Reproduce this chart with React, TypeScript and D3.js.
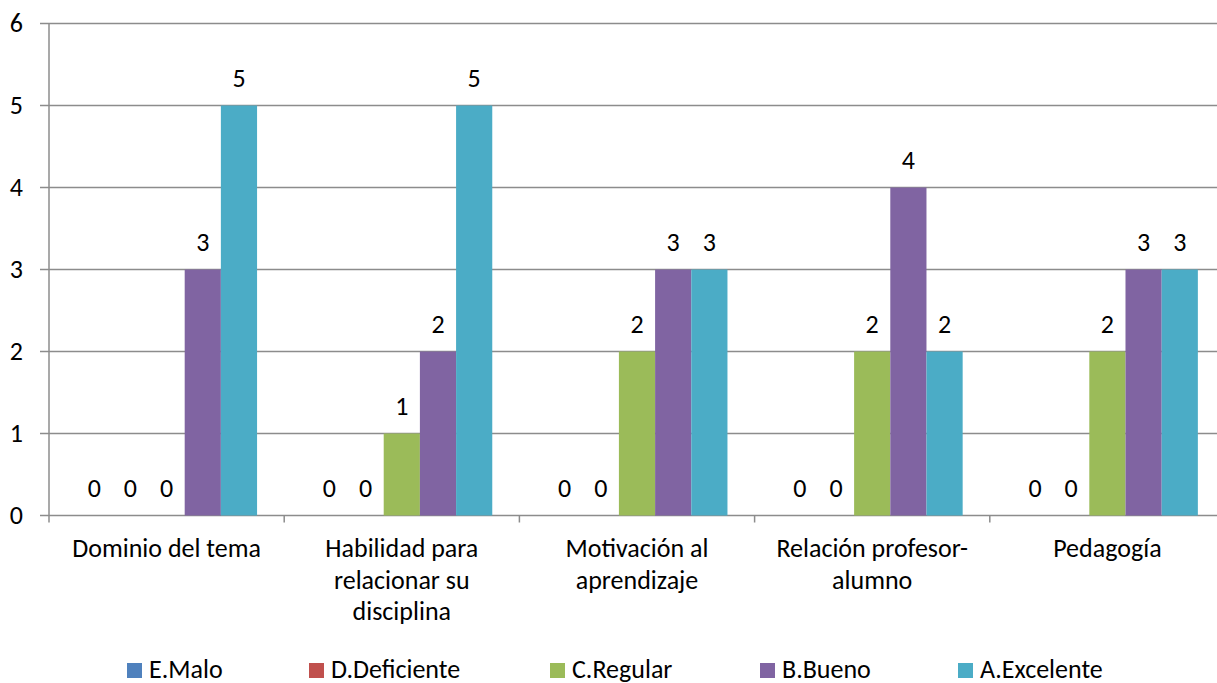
import React from "react";
import * as d3 from "d3";

const categories = ["Dominio del tema", "Habilidad para relacionar su disciplina", "Motivación al aprendizaje", "Relación profesor-alumno", "Pedagogía"];
const categoryLines = [
  ["Dominio del tema"],
  ["Habilidad para", "relacionar su", "disciplina"],
  ["Motivación al", "aprendizaje"],
  ["Relación profesor-", "alumno"],
  ["Pedagogía"],
];
const seriesNames = ["E.Malo", "D.Deficiente", "C.Regular", "B.Bueno", "A.Excelente"];
const seriesColors = ["#4F81BD", "#C0504D", "#9BBB59", "#8064A2", "#4BACC6"];
const malo = [0, 0, 0, 0, 0];
const deficiente = [0, 0, 0, 0, 0];
const regular = [0, 1, 2, 2, 2];
const bueno = [3, 2, 3, 4, 3];
const excelente = [5, 5, 3, 2, 3];
const seriesValues = [malo, deficiente, regular, bueno, excelente];
const yTicks = [0, 1, 2, 3, 4, 5, 6];

const W = 1217;
const H = 683;
const FONT = "Carlito, Lato, 'Open Sans', sans-serif";
const FS = 26;
const GRID = "#8C8C8C";
// legend layout (x of each swatch)
const legendX = [127, 309, 550, 760, 958];

export default function App() {
  const left = 49;
  const catW = 235.2;
  const x0 = d3.scaleBand<string>().domain(categories).range([left, left + catW * categories.length]).padding(0);
  const x1 = d3.scaleBand<string>().domain(seriesNames).range([0, catW]).paddingInner(0).paddingOuter(0.75);
  const y = d3.scaleLinear().domain([0, 6]).range([515.5, 23.5]);

  return (
    <svg width={W} height={H} style={{ position: "absolute", left: 0, top: 0, background: "#fff" }} fontFamily={FONT}>
      {yTicks.map((t) => (
        <g key={t}>
          <line x1={40} x2={W} y1={y(t)} y2={y(t)} stroke={GRID} strokeWidth={1.5} />
          <text x={23} y={y(t) + 8.5} textAnchor="end" fontSize={FS} fill="#000">{t}</text>
        </g>
      ))}
      <line x1={left} x2={left} y1={y(6)} y2={y(0) + 7} stroke={GRID} strokeWidth={1.5} />
      {categories.slice(1).map((c) => (
        <line key={c} x1={x0(c)!} x2={x0(c)!} y1={y(0)} y2={y(0) + 7} stroke={GRID} strokeWidth={1.5} />
      ))}
      {categories.map((c, ci) => (
        <g key={c}>
          {seriesNames.map((s, si) => {
            const v = seriesValues[si][ci];
            const bx = x0(c)! + x1(s)!;
            return (
              <g key={s}>
                {v > 0 && (
                  <rect x={bx} y={y(v)} width={x1.bandwidth()} height={y(0) - y(v)} fill={seriesColors[si]} />
                )}
                <text x={bx + x1.bandwidth() / 2} y={y(v) - 19} textAnchor="middle" fontSize={FS} fill="#000">{v}</text>
              </g>
            );
          })}
          {categoryLines[ci].map((ln, li) => (
            <text key={li} x={x0(c)! + catW / 2} y={557 + li * 31.6} textAnchor="middle" fontSize={FS} fill="#000">{ln}</text>
          ))}
        </g>
      ))}
      {seriesNames.map((n, i) => (
        <g key={n}>
          <rect x={legendX[i]} y={663} width={15} height={15} fill={seriesColors[i]} />
          <text x={legendX[i] + 22} y={677.5} fontSize={FS} fill="#000">{n}</text>
        </g>
      ))}
    </svg>
  );
}
